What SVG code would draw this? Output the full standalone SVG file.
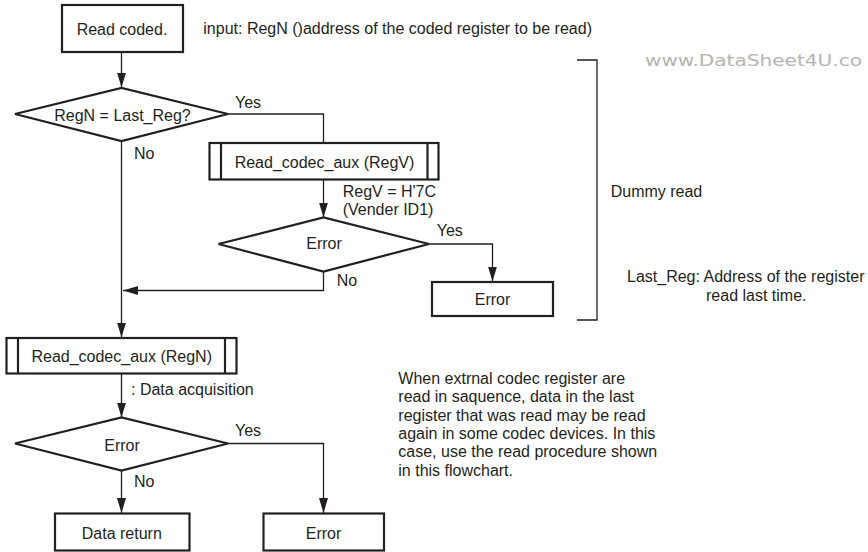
<svg xmlns="http://www.w3.org/2000/svg" width="868" height="552" viewBox="0 0 868 552">
<style>
text{font-family:"Liberation Sans",Arial,sans-serif;font-size:16px;fill:#231f20}
.c{text-anchor:middle}
.box{fill:#fff;stroke:#231f20;stroke-width:2.2}
.in{stroke:#231f20;stroke-width:2.2}
.con{fill:none;stroke:#231f20;stroke-width:1.3}
.wm{font-family:"DejaVu Sans",sans-serif;font-size:15px;fill:#b4b4b4}
</style>
<defs>
<marker id="ah" markerUnits="userSpaceOnUse" markerWidth="15" markerHeight="9" refX="15" refY="4.5" orient="auto">
<path d="M0,0 L15,4.5 L0,9 z" fill="#231f20"/>
</marker>
</defs>
<rect width="868" height="552" fill="#fff"/>
<g id="connectors">
<line class="con" x1="121.5" y1="52" x2="121.5" y2="87.5" marker-end="url(#ah)"/>
<polyline class="con" points="228,114 323.5,114 323.5,143"/>
<line class="con" x1="323.5" y1="179.5" x2="323.5" y2="217.5" marker-end="url(#ah)"/>
<polyline class="con" points="429,244 492.5,244 492.5,281.5" marker-end="url(#ah)"/>
<polyline class="con" points="323.5,271.5 323.5,290.5 123,290.5" marker-end="url(#ah)"/>
<line class="con" x1="121.5" y1="141" x2="121.5" y2="337.5" marker-end="url(#ah)"/>
<line class="con" x1="121.5" y1="373.5" x2="121.5" y2="417.5" marker-end="url(#ah)"/>
<polyline class="con" points="228,443.5 323.5,443.5 323.5,513" marker-end="url(#ah)"/>
<line class="con" x1="121.5" y1="470.5" x2="121.5" y2="513" marker-end="url(#ah)"/>
<polyline class="con" points="577,60 597,60 597,320 577,320"/>
</g>
<g id="start">
<rect class="box" x="62" y="5" width="121" height="47"/>
<text class="c" x="122" y="34.5">Read coded.</text>
</g>
<text x="203.3" y="34">input: RegN ()address of the coded register to be read)</text>
<text class="wm" transform="translate(645,65.5) scale(1.34,1)" x="0" y="0">www.DataSheet4U.co</text>
<g id="dec1">
<polygon class="box" points="15,114 121.5,88 228,114 121.5,141"/>
<text class="c" x="122.5" y="120.5">RegN = Last_Reg?</text>
</g>
<text x="235" y="107.5">Yes</text>
<text x="134" y="158.5">No</text>
<g id="readV">
<rect class="box" x="209.5" y="143" width="229" height="36.5"/>
<line class="in" x1="221" y1="143" x2="221" y2="179.5"/>
<line class="in" x1="427.5" y1="143" x2="427.5" y2="179.5"/>
<text class="c" x="324.5" y="167.5">Read_codec_aux (RegV)</text>
</g>
<text x="342.7" y="197">RegV = H'7C</text>
<text x="342.7" y="215">(Vender ID1)</text>
<g id="dec2">
<polygon class="box" points="218.5,244 323.5,217.5 429,244 323.5,271.5"/>
<text class="c" x="324" y="249">Error</text>
</g>
<text x="436.7" y="235.5">Yes</text>
<text x="336.7" y="285.5">No</text>
<g id="err1">
<rect class="box" x="432" y="282" width="121" height="34"/>
<text class="c" x="492.5" y="305">Error</text>
</g>
<text x="610.7" y="197">Dummy read</text>
<text x="627" y="282">Last_Reg: Address of the register</text>
<text x="706" y="300.5">read last time.</text>
<g id="readN">
<rect class="box" x="6.5" y="338" width="230" height="35.5"/>
<line class="in" x1="18" y1="338" x2="18" y2="373.5"/>
<line class="in" x1="225" y1="338" x2="225" y2="373.5"/>
<text class="c" x="121.7" y="362">Read_codec_aux (RegN)</text>
</g>
<text x="131" y="394.7">: Data acquisition</text>
<g id="dec3">
<polygon class="box" points="15,443.5 121.5,417.5 228,443.5 121.5,470.5"/>
<text class="c" x="122" y="450.5">Error</text>
</g>
<text x="235" y="436">Yes</text>
<text x="134" y="487">No</text>
<g id="dataret">
<rect class="box" x="55" y="513.5" width="134.5" height="37"/>
<text class="c" x="121.8" y="539">Data return</text>
</g>
<g id="err2">
<rect class="box" x="263.5" y="513.5" width="120.5" height="37"/>
<text class="c" x="323.5" y="539">Error</text>
</g>
<g id="note">
<text x="398.3" y="383.8">When extrnal codec register are</text>
<text x="398.3" y="402.2">read in saquence, data in the last</text>
<text x="398.3" y="420.5">register that was read may be read</text>
<text x="398.3" y="438.8">again in some codec devices. In this</text>
<text x="398.3" y="457.2">case, use the read procedure shown</text>
<text x="398.3" y="476">in this flowchart.</text>
</g>
</svg>
